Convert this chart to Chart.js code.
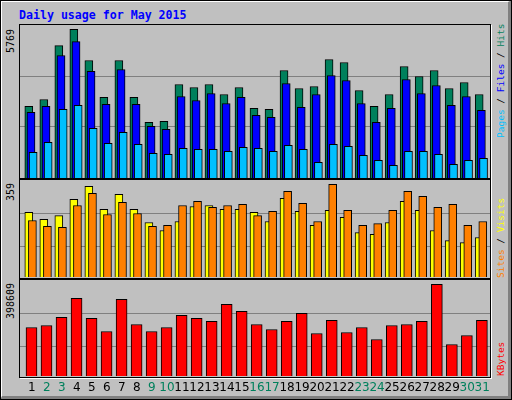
<!DOCTYPE html>
<html>
<head>
<meta charset="utf-8">
<script src="https://cdn.jsdelivr.net/npm/chart.js@4"></script>
<style>
  body { margin: 0; background: #fff; }
  #box { position: absolute; left: 0; top: 0; background: #c0c0c0;
         border-top: 2px solid #fff; border-left: 2px solid #fff; border-right: 4px solid #808080; border-bottom: 4px solid #808080;
         box-sizing: border-box; width: 512px; height: 400px; outline: 1px solid #000; outline-offset: -1px; }
  .frame { position: absolute; border: 1px solid #000; box-shadow: 1px 1px 0 #fff; }
  canvas { position: absolute; }
  .t { position: absolute; font: bold 11.6px "DejaVu Sans Mono", monospace; white-space: nowrap; }
  .rot { position: absolute; transform: rotate(-90deg); transform-origin: left top; font: 9.5px "DejaVu Sans Mono", monospace; white-space: nowrap; }
  .lv { font-size: 10px; }
</style>
</head>
<body>
<div id="box"></div>
<div class="t" style="left:19px;top:8px;color:#0000ff">Daily usage for May 2015</div>
<div class="frame" style="left:19px;top:24px;width:470px;height:153px"></div>
<div class="frame" style="left:19px;top:179px;width:470px;height:98px"></div>
<div class="frame" style="left:19px;top:279px;width:470px;height:97px"></div>
<canvas id="c1" style="left:20px;top:25px" width="470" height="153"></canvas>
<canvas id="c2" style="left:20px;top:180px" width="470" height="97"></canvas>
<canvas id="c3" style="left:20px;top:281px" width="470" height="119"></canvas>
<div class="rot lv" style="left:5px;top:53px;color:#000">5769</div>
<div class="rot lv" style="left:5px;top:201px;color:#000">359</div>
<div class="rot lv" style="left:5px;top:319px;color:#000">398609</div>
<div class="rot" style="left:495px;top:138px;"><span style="color:#00c0ff">Pages</span> / <span style="color:#0000ff">Files</span> / <span style="color:#00805c">Hits</span></div>
<div class="rot" style="left:495px;top:278px;"><span style="color:#ff8000">Sites</span> / <span style="color:#ffff00">Visits</span></div>
<div class="rot" style="left:495px;top:376px;color:#ff0000">KBytes</div>
<script>
const days = Array.from({ length: 31 }, (_, i) => i + 1);
const weekends = [2, 3, 9, 10, 16, 17, 23, 24, 30, 31];

const hits = [2776, 3047, 5138, 5769, 4557, 3125, 4557, 3125, 2157, 2195, 3628, 3512, 3628, 3241, 3512, 2699,
  2660, 4170, 3473, 3551, 4596, 4480, 3396, 2776, 3241, 4325, 3938, 4170, 3473, 3705, 3241];
const files = [2544, 2776, 4751, 5293, 4143, 2854, 4209, 2854, 2002, 1886, 3163, 3008, 3280, 2892, 3125, 2428,
  2350, 3667, 2738, 3241, 3977, 3783, 2892, 2157, 2699, 3822, 3280, 3589, 2815, 3163, 2621];
const pages = [995, 1382, 2660, 2815, 1924, 1344, 1769, 1305, 956, 918, 1150, 1111, 1111, 1034, 1189, 1150,
  1034, 1266, 1111, 608, 1305, 1227, 879, 685, 492, 1034, 1034, 918, 530, 685, 763];
const visits = [250, 223, 238, 301, 351, 262, 320, 262, 211, 180, 215, 273, 277, 262, 262, 250,
  215, 305, 254, 200, 258, 231, 172, 165, 211, 293, 258, 180, 141, 133, 153];
const sites = [219, 196, 192, 277, 324, 242, 289, 246, 196, 200, 277, 293, 270, 277, 281, 238,
  254, 332, 285, 215, 359, 258, 200, 207, 258, 332, 312, 270, 281, 200, 215];
const kbytes = [210946, 219675, 254590, 337514, 250226, 193488, 333149, 224039, 193488, 210946, 263319, 250226,
  237132, 311327, 280776, 224039, 202217, 237132, 272048, 184760, 241497, 189124, 210946, 158573, 219675,
  224039, 237132, 398609, 136751, 176031, 241497];

const XMIN = 0.414, XMAX = 31.72;
const pts = (arr, off) => arr.map((v, i) => ({ x: days[i] + off, y: v }));
const bar = (data, color, w) => ({ data, backgroundColor: color, borderColor: '#000', borderWidth: 1, barThickness: w, grouped: false });

function opts(max, grid, padBottom) {
  return {
    responsive: false, animation: false,
    layout: { padding: { bottom: padBottom || 0 } },
    plugins: { legend: { display: false }, tooltip: { enabled: false } },
    scales: {
      x: { type: 'linear', min: XMIN, max: XMAX, offset: false, display: false },
      y: {
        min: 0, max, display: true, border: { display: false },
        ticks: { display: false },
        afterBuildTicks: s => { s.ticks = grid.map(v => ({ value: v })); },
        grid: { color: '#808080', lineWidth: 1, drawTicks: false }
      }
    }
  };
}

new Chart(document.getElementById('c1'), {
  type: 'bar',
  data: { datasets: [bar(pts(pages, 0.29), '#00c0ff', 8), bar(pts(files, 0.147), '#0000ff', 8), bar(pts(hits, 0), '#00805c', 8)] },
  options: opts(5936, [1979, 3957])
});

new Chart(document.getElementById('c2'), {
  type: 'bar',
  data: { datasets: [bar(pts(sites, 0.24), '#ff8000', 8), bar(pts(visits, 0), '#ffff00', 8)] },
  options: opts(375.7, [118.9, 246.7])
});

const dayLabels = {
  id: 'dayLabels',
  afterDraw(chart) {
    const ctx = chart.ctx, xs = chart.scales.x;
    ctx.save();
    ctx.font = '12px "DejaVu Sans", sans-serif';
    ctx.textAlign = 'center';
    ctx.textBaseline = 'middle';
    days.forEach(d => {
      ctx.fillStyle = weekends.includes(d) ? '#00805c' : '#000';
      ctx.fillText(String(d), xs.getPixelForValue(d + 0.2), chart.chartArea.bottom + 12);
    });
    ctx.restore();
  }
};

new Chart(document.getElementById('c3'), {
  type: 'bar',
  data: { datasets: [bar(pts(kbytes, 0.18), '#ff0000', 11)] },
  options: opts(412954, [129100, 272550], 24),
  plugins: [dayLabels]
});
</script>
</body>
</html>
